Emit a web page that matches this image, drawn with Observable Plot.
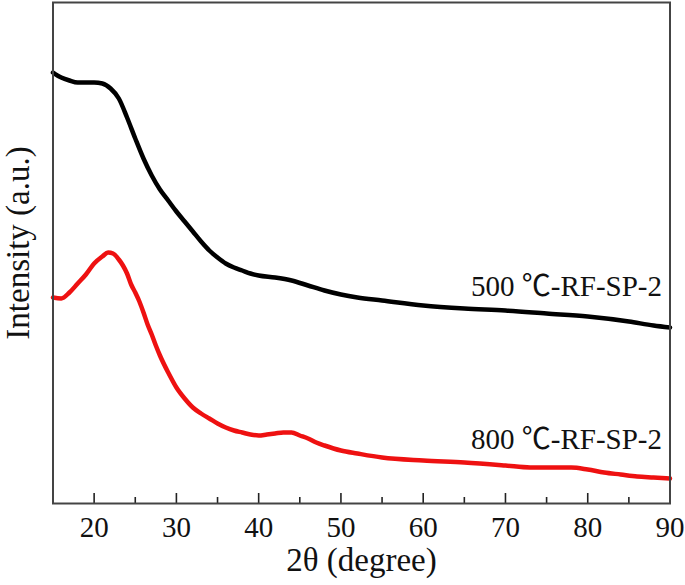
<!DOCTYPE html>
<html>
<head>
<meta charset="utf-8">
<script src="https://cdn.jsdelivr.net/npm/d3@7"></script>
<script src="https://cdn.jsdelivr.net/npm/@observablehq/plot@0.6"></script>
<style>
  html, body { margin: 0; padding: 0; background: #fff; }
</style>
</head>
<body>
<div id="chart"></div>
<script>
// 500 ℃-RF-SP-2 (black)
const twoTheta500 = [15, 16, 17, 18, 19, 20, 21, 22, 23, 24, 25, 26, 27, 28, 29, 30, 31, 32, 33, 34, 35, 36, 37, 38, 39, 40, 42, 44, 46, 48, 50, 52, 55, 60, 65, 70, 75, 80, 85, 88, 90];
const intensity500 = [431, 426, 423, 421, 421, 421, 420, 415, 405, 386, 365, 345, 328, 314, 303, 292, 282, 272, 262, 253, 246, 240, 236, 233, 230, 228, 226, 223, 218, 213, 209, 206, 203, 198, 195, 193, 190, 187, 182, 178, 176];

// 800 ℃-RF-SP-2 (red)
const twoTheta800 = [15, 16, 17, 18, 19, 20, 21, 21.7, 22.3, 23, 23.5, 24, 24.5, 25, 25.5, 26, 26.5, 27, 27.5, 28, 29, 30, 31, 32, 33, 34, 35, 36, 37, 38, 39, 40, 41, 42, 43, 44, 45, 46, 47, 48, 50, 52, 55, 60, 65, 70, 73, 75, 78, 80, 82, 84, 86, 88, 90];
const intensity800 = [206, 205, 211, 220, 229, 240, 247, 251, 250, 244, 238, 230, 219, 211, 202, 191, 179, 169, 158, 148, 131, 116, 105, 96, 90, 85, 80, 76, 73, 71, 69, 68, 69, 70, 71, 71, 68, 65, 61, 58, 53, 50, 46, 43, 41, 38, 36, 36, 36, 34, 31, 29, 27, 26, 25];

const seriesNames = ["500 ℃-RF-SP-2", "800 ℃-RF-SP-2"];
const seriesColors = ["#000000", "#ee1111"];
const labelIntensity = [217, 64];

const majorTicks = [20, 30, 40, 50, 60, 70, 80, 90];
const tickLabels = ["20", "30", "40", "50", "60", "70", "80", "90"];
const minorTicks = [25, 35, 45, 55, 65, 75, 85];

const xTitle = "2θ (degree)";
const yTitle = "Intensity (a.u.)";

const d500 = twoTheta500.map((x, i) => ({x, y: intensity500[i]}));
const d800 = twoTheta800.map((x, i) => ({x, y: intensity800[i]}));
const labels = seriesNames.map((name, i) => ({name, y: labelIntensity[i], color: seriesColors[i]}));

const font = "Liberation Serif, Noto Sans CJK SC, serif";

const chart = Plot.plot({
  width: 685,
  height: 585,
  marginLeft: 52.5,
  marginRight: 15.5,
  marginTop: 2,
  marginBottom: 82,
  x: {domain: [15, 90], axis: null},
  y: {domain: [0, 501], axis: null},
  style: {fontFamily: font, background: "#fff", color: "#111"},
  marks: [
    Plot.line(d500, {x: "x", y: "y", stroke: seriesColors[0], strokeWidth: 4.5, curve: "monotone-x"}),
    Plot.line(d800, {x: "x", y: "y", stroke: seriesColors[1], strokeWidth: 4.5, curve: "monotone-x"}),
    Plot.tickX(majorTicks, {x: d => d, insetTop: 491, stroke: "#222", strokeWidth: 1.6}),
    Plot.tickX(minorTicks, {x: d => d, insetTop: 495, stroke: "#222", strokeWidth: 1.6}),
    Plot.frame({stroke: "#444", strokeWidth: 2}),
    Plot.text(majorTicks, {x: d => d, frameAnchor: "bottom", lineAnchor: "middle", dy: 24, text: (d, i) => tickLabels[i], fontSize: 29, fontFamily: font, fill: "#111"}),
    Plot.text([xTitle], {frameAnchor: "bottom", lineAnchor: "middle", textAnchor: "middle", dy: 56.5, text: d => d, fontSize: 33, fontFamily: font, fill: "#111"}),
    Plot.text([yTitle], {frameAnchor: "left", lineAnchor: "middle", textAnchor: "middle", dx: -35, dy: -10, rotate: -90, text: d => d, fontSize: 33, fontFamily: font, fill: "#111"}),
    Plot.text(labels, {y: "y", frameAnchor: "right", lineAnchor: "middle", dx: -8, textAnchor: "end", text: "name", fontSize: 29, fontFamily: font, fill: "#111"})
  ]
});
document.getElementById("chart").appendChild(chart);
</script>
</body>
</html>
